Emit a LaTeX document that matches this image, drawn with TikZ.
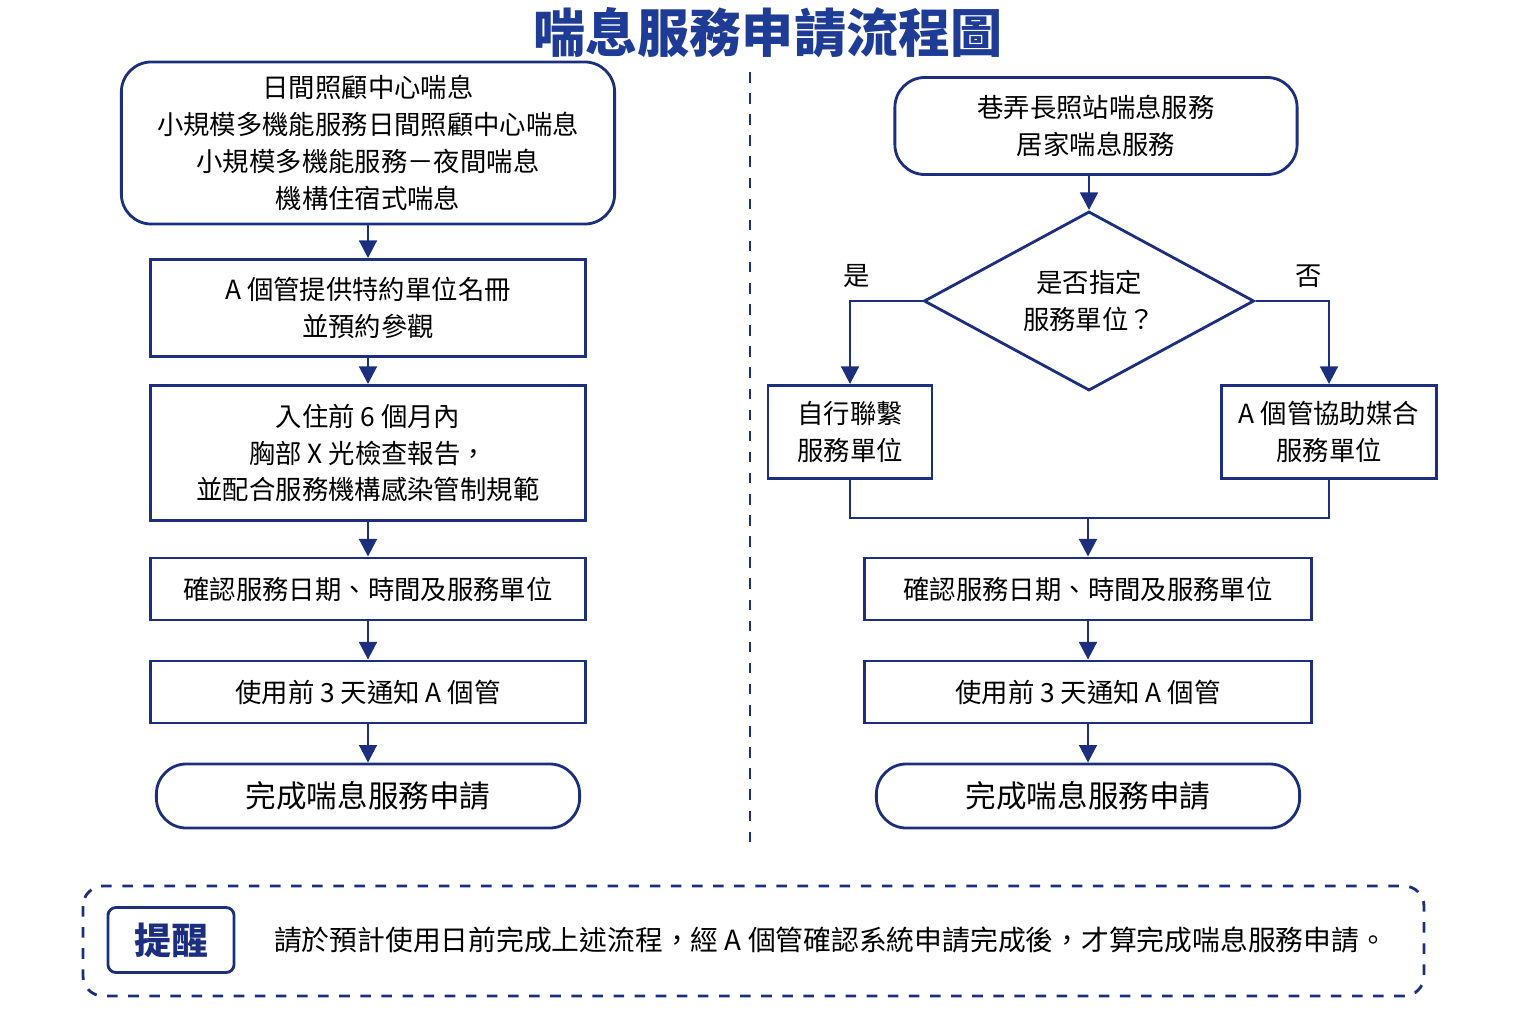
\documentclass[tikz,border=0pt]{standalone}
\usepackage{fontspec}
\setmainfont{Noto Sans CJK TC}
\usetikzlibrary{shapes.geometric,arrows.meta,positioning}
\definecolor{navy}{HTML}{1B2F7E}
\definecolor{titleblue}{HTML}{1E3C96}
\tikzset{
  box/.style={draw=navy,thick,fill=white,inner sep=0pt,align=center,font=\fontsize{7.5}{10.5}\selectfont},
  term/.style={box,rounded corners=0.3cm},
  arr/.style={navy,thick,-{Triangle[length=5pt,width=5pt]}},
  line/.style={navy,thick},
  lbl/.style={font=\fontsize{7.5}{9}\selectfont}
}
\begin{document}
\begin{tikzpicture}[x=0.01cm,y=-0.01cm]
\useasboundingbox (0,0) rectangle (1536,1024);

\node[text=titleblue,font=\bfseries\fontsize{14.8}{16}\selectfont] (title) at (768,33) {喘息服務申請流程圖};
\draw[navy,thick,dashed] (750,72) -- (750,850);

% left column
\node[term,minimum width=4.93cm,minimum height=1.62cm] (l0) at (368,143)
  {日間照顧中心喘息\\小規模多機能服務日間照顧中心喘息\\小規模多機能服務－夜間喘息\\機構住宿式喘息};
\node[box,minimum width=4.34cm,minimum height=0.97cm] (l1) at (368,308) {A 個管提供特約單位名冊\\並預約參觀};
\node[box,minimum width=4.34cm,minimum height=1.35cm] (l2) at (368,453) {入住前 6 個月內\\胸部 X 光檢查報告，\\並配合服務機構感染管制規範};
\node[box,minimum width=4.34cm,minimum height=0.62cm] (l3) at (368,589) {確認服務日期、時間及服務單位};
\node[box,minimum width=4.34cm,minimum height=0.62cm] (l4) at (368,692) {使用前 3 天通知 A 個管};
\node[term,minimum width=4.23cm,minimum height=0.64cm,font=\fontsize{8.7}{10}\selectfont] (l5) at (368,796) {完成喘息服務申請};
\foreach \a/\b in {l0/l1,l1/l2,l2/l3,l3/l4,l4/l5}
  \draw[arr] (\a) -- (\b);

% right column
\node[term,minimum width=4.02cm,minimum height=0.97cm] (r0) at (1096,126) {巷弄長照站喘息服務\\居家喘息服務};
\node[box,diamond,aspect=1.84,minimum width=3.3cm,minimum height=1.79cm] (q) at (1089,301) {是否指定\\服務單位？};
\node[box,minimum width=1.64cm,minimum height=0.93cm] (ra) at (850,432) {自行聯繫\\服務單位};
\node[box,minimum width=2.15cm,minimum height=0.93cm] (rb) at (1329,432) {A 個管協助媒合\\服務單位};
\node[box,minimum width=4.47cm,minimum height=0.62cm] (r3) at (1088,589) {確認服務日期、時間及服務單位};
\node[box,minimum width=4.47cm,minimum height=0.62cm] (r4) at (1088,692) {使用前 3 天通知 A 個管};
\node[term,minimum width=4.23cm,minimum height=0.64cm,font=\fontsize{8.7}{10}\selectfont] (r5) at (1088,796) {完成喘息服務申請};
\coordinate (merge) at (1088,518);
\node[lbl] (yes) at (857,276) {是};
\node[lbl] (no) at (1309,276) {否};
\draw[arr] (r0.south -| q.north) -- (q.north);
\draw[arr] (q.west) -| (ra.north);
\draw[arr] (q.east) -| (rb.north);
\draw[line] (ra.south) |- (merge) -| (rb.south);
\draw[arr] (merge) -- (r3);
\draw[arr] (r3) -- (r4);
\draw[arr] (r4) -- (r5);

% note
\draw[navy,thick,dashed,rounded corners=0.2cm] (83,886) rectangle (1424,996);
\node[box,rounded corners=0.08cm,minimum width=1.26cm,minimum height=0.65cm,text=navy,font=\bfseries\fontsize{10.5}{12}\selectfont] (tip) at (171,940) {提醒};
\node[right=0.38cm of tip,inner sep=0pt,font=\fontsize{7.9}{9}\selectfont] (note) {請於預計使用日前完成上述流程，經 A 個管確認系統申請完成後，才算完成喘息服務申請。};
\end{tikzpicture}
\end{document}
